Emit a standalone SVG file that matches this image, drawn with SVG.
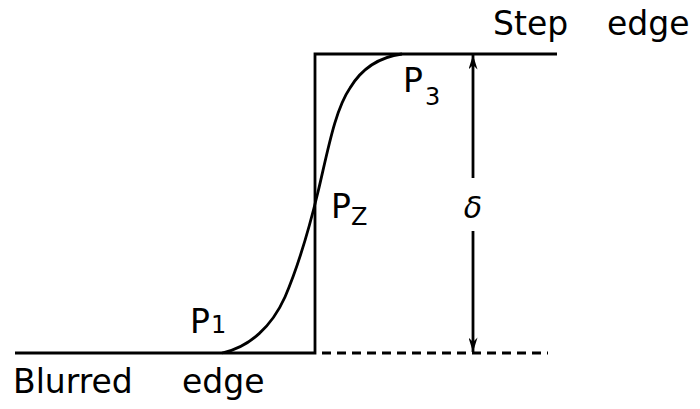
<svg xmlns="http://www.w3.org/2000/svg" width="700" height="409" viewBox="0 0 700 409">
<style>
.ln{stroke:#000;stroke-width:2.8;fill:none;stroke-linecap:butt}
.dash{stroke:#000;stroke-width:2.8;fill:none;stroke-dasharray:9 6}
.t{font-family:"DejaVu Sans",sans-serif;fill:#000}
.big{font-size:33px}
.sub{font-size:24px}
</style>
<defs>
<marker id="ah" viewBox="0 0 16 10" refX="16" refY="5" markerWidth="16" markerHeight="9" markerUnits="userSpaceOnUse" orient="auto">
<path d="M0 0 L16 5 L0 10 L5 5 Z" fill="#000"/>
</marker>
</defs>
<g id="step-edge">
<path class="ln" d="M15 353 H315 V54 H557"/>
</g>
<g id="blurred-edge">
<path class="ln" d="M222 353 C250 347 272 326 285 297 C300 262 310 225 318 192 C328 150 335 110 350 88 C362 68 380 57 402 54"/>
</g>
<g id="connectors">
<path class="dash" d="M322 353 H548"/>
<line class="ln" x1="473" y1="178" x2="473" y2="55" marker-end="url(#ah)"/>
<line class="ln" x1="473" y1="231" x2="473" y2="352" marker-end="url(#ah)"/>
</g>
<g id="labels">
<text class="t big" x="493" y="35">Step</text>
<text class="t big" x="607" y="35">edge</text>
<text class="t big" x="13" y="393">Blurred</text>
<text class="t big" x="182" y="393">edge</text>
<text class="t big" x="403" y="92">P</text><text class="t sub" x="425" y="105">3</text>
<text class="t big" x="331" y="218">P</text><text class="t sub" x="351" y="225">Z</text>
<text class="t big" x="190" y="333">P</text><text class="t sub" x="211" y="333">1</text>
<text class="t" font-size="30" x="473" y="218" text-anchor="middle" font-style="italic">δ</text>
</g>
</svg>
